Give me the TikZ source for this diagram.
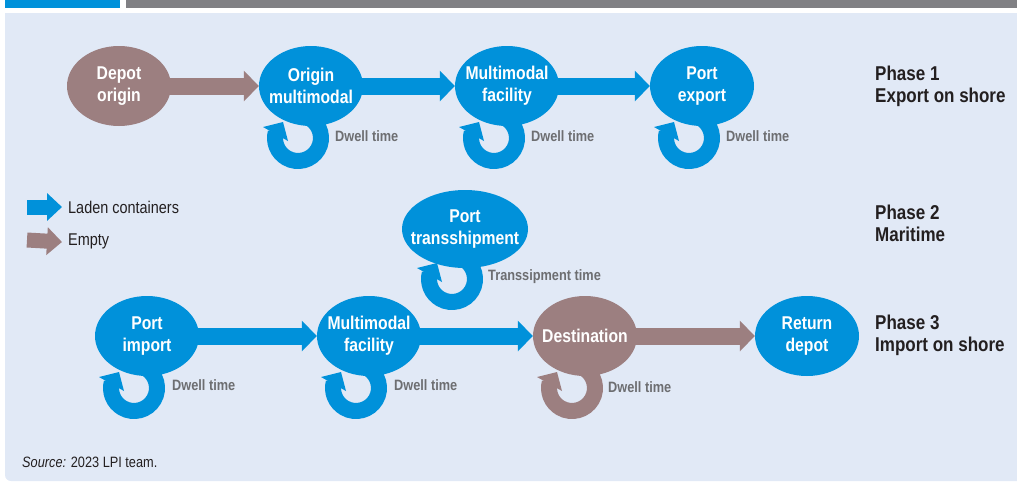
\documentclass[tikz,border=0pt]{standalone}
\usepackage{fontspec}
\setmainfont{Liberation Sans}[FakeStretch=0.85]
\usetikzlibrary{shapes.geometric,arrows.meta,calc}
\definecolor{lpiblue}{RGB}{0,145,218}
\definecolor{lpibrown}{RGB}{156,127,128}
\definecolor{panel}{RGB}{225,233,246}
\definecolor{bargray}{RGB}{128,128,132}
\definecolor{lblgray}{RGB}{109,110,113}
\definecolor{ink}{RGB}{35,31,32}
\pgfdeclarelayer{back}
\pgfdeclarelayer{loops}
\pgfsetlayers{back,loops,main}
\tikzset{
  bub/.style={ellipse, minimum width=104pt, minimum height=80pt, inner sep=0pt, fill=#1},
  bubtext/.style={text=white, font=\bfseries\fontsize{18.5}{22}\selectfont, align=center, inner sep=0pt},
  flow/.style={line width=17pt, draw=#1, -{Triangle[width=30pt,length=15pt]}},
  legarrow/.style={line width=15pt, draw=#1, -{Triangle[width=27pt,length=15pt]}},
  dwl/.style={text=lblgray, font=\bfseries\fontsize{15}{18}\selectfont, anchor=west, inner sep=0pt},
  phase/.style={text=ink, font=\bfseries\fontsize{20}{22}\selectfont, align=left, anchor=west, inner sep=0pt},
  legtext/.style={text=ink, font=\fontsize{17}{20}\selectfont, anchor=west, inner sep=0pt},
  pics/dwell/.style={code={
    \draw[line width=16pt, draw=#1] (-60:23) arc[start angle=-60, end angle=195, radius=23];
    \fill[#1] (-35,-11) -- (-15,-16) -- (-10,3) -- cycle;
  }}
}
\begin{document}
\begin{tikzpicture}[x=1pt,y=-1pt]
\useasboundingbox (0,0) rectangle (1017,483);
\begin{pgfonlayer}{back}
  \fill[lpiblue] (5,0) rectangle (120,8);
  \fill[bargray] (126,0) rectangle (1017,8);
  \fill[panel] (5,13) -- (1017,13) -- (1017,481) -- (11,481)
     arc[start angle=90, end angle=180, radius=6] -- cycle;
\end{pgfonlayer}

% Phase 1
\node[bub=lpibrown, label={[bubtext]center:Depot\\origin}] (depot) at (119,86) {};
\node[bub=lpiblue, label={[bubtext]center:Origin\\multimodal}] (origin) at (311,86) {};
\node[bub=lpiblue, label={[bubtext]center:Multimodal\\facility}] (mmf1) at (507,86) {};
\node[bub=lpiblue, label={[bubtext]center:Port\\export}] (portexp) at (702,86) {};

% Phase 2
\node[bub=lpiblue, minimum width=126pt, minimum height=78pt, label={[bubtext]center:Port\\transshipment}] (porttr) at (465,229) {};

% Phase 3
\node[bub=lpiblue, label={[bubtext]center:Port\\import}] (portimp) at (147,336) {};
\node[bub=lpiblue, label={[bubtext]center:Multimodal\\facility}] (mmf2) at (369,336) {};
\node[bub=lpibrown, label={[bubtext]center:Destination}] (dest) at (585,336) {};
\node[bub=lpiblue, label={[bubtext]center:Return\\depot}] (retdep) at (807,336) {};

% dwell loops
\begin{pgfonlayer}{loops}
  \pic at ($(origin)+(-13,52)$) {dwell=lpiblue};
  \pic at ($(mmf1)+(-13,52)$) {dwell=lpiblue};
  \pic at ($(portexp)+(-13,52)$) {dwell=lpiblue};
  \pic at ($(porttr)+(-13,50)$) {dwell=lpiblue};
  \pic at ($(portimp)+(-13,52)$) {dwell=lpiblue};
  \pic at ($(mmf2)+(-13,52)$) {dwell=lpiblue};
  \pic at ($(dest)+(-13,52)$) {dwell=lpibrown};
\end{pgfonlayer}

% flow arrows
\draw[flow=lpibrown] ([xshift=-5pt]depot.east) -- (origin.west);
\draw[flow=lpiblue] ([xshift=-5pt]origin.east) -- (mmf1.west);
\draw[flow=lpiblue] ([xshift=-5pt]mmf1.east) -- (portexp.west);
\draw[flow=lpiblue] ([xshift=-5pt]portimp.east) -- (mmf2.west);
\draw[flow=lpiblue] ([xshift=-5pt]mmf2.east) -- (dest.west);
\draw[flow=lpibrown] ([xshift=-5pt]dest.east) -- (retdep.west);

% dwell labels
\node[dwl] (d1) at ($(origin)+(24,50)$) {Dwell time};
\node[dwl] (d2) at ($(mmf1)+(24,50)$) {Dwell time};
\node[dwl] (d3) at ($(portexp)+(24,50)$) {Dwell time};
\node[dwl] (d4) at ($(porttr)+(23,48)$) {Transsipment time};
\node[dwl] (d5) at ($(portimp)+(25,49)$) {Dwell time};
\node[dwl] (d6) at ($(mmf2)+(25,49)$) {Dwell time};
\node[dwl] (d7) at ($(dest)+(23,51)$) {Dwell time};

% phases
\node[phase] (ph1) at (875,86) {Phase 1\\Export on shore};
\node[phase] (ph2) at (875,223) {Phase 2\\Maritime};
\node[phase] (ph3) at (875,335) {Phase 3\\Import on shore};

% legend
\node[legtext] (lg1) at (68,207) {Laden containers};
\node[legtext] (lg2) at (68,241) {Empty};
\coordinate (lg1s) at (27,207);
\coordinate (lg2s) at (27,240);
\draw[legarrow=lpiblue] (lg1s) -- ([xshift=-6pt]lg1.west);
\draw[legarrow=lpibrown] (lg2s) -- ([xshift=-6pt,yshift=-1pt]lg2.west);

% source
\node[text=ink, font=\fontsize{15}{18}\selectfont, anchor=west, inner sep=0pt] (src) at (22,462) {\textit{Source:} 2023 LPI team.};
\end{tikzpicture}
\end{document}
